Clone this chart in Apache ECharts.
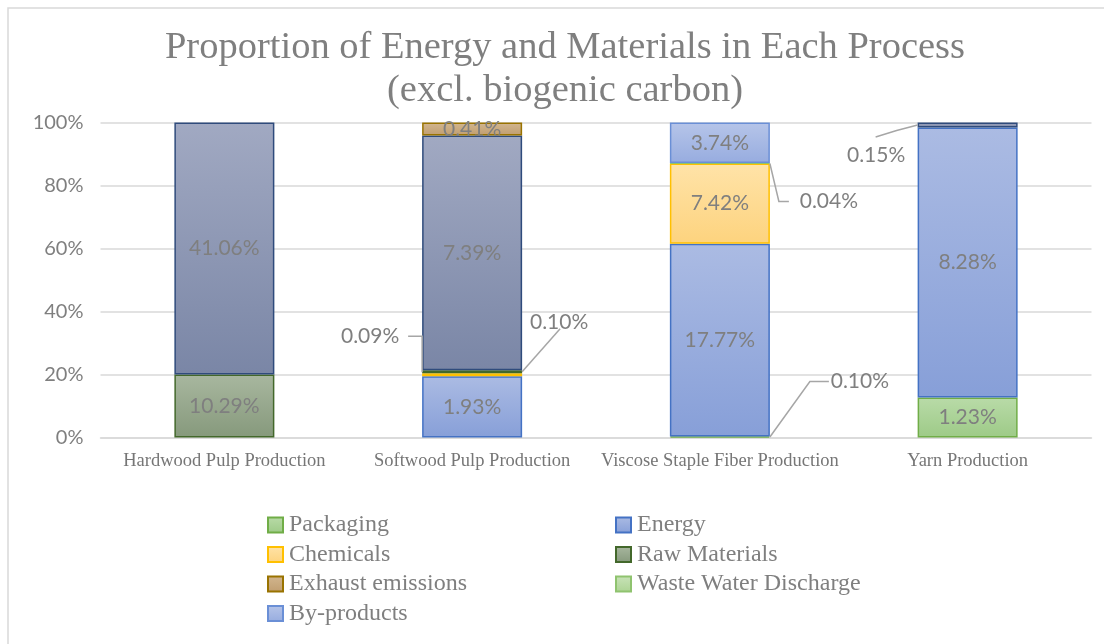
<!DOCTYPE html>
<html>
<head>
<meta charset="utf-8">
<script src="https://cdn.jsdelivr.net/npm/echarts@6/dist/echarts.min.js"></script>
<style>
  html, body { margin: 0; padding: 0; background: #ffffff; }
  #chart { width: 1104px; height: 644px; }
</style>
</head>
<body>
<div id="chart"></div>
<script>
// Process steps along the x axis
const processes = ['Hardwood Pulp Production', 'Softwood Pulp Production', 'Viscose Staple Fiber Production', 'Yarn Production'];

// Contribution of each input / output per process (%), null where absent
const packaging    = [null, null, 0.10, 1.23];
const energy       = [null, 1.93, 17.77, 8.28];
const chemicals    = [null, 0.09, 7.42, null];
const rawMaterials = [10.29, 0.10, null, null];
const primaryInput = [41.06, 7.39, null, 0.15];
const exhaust      = [null, 0.41, null, null];
const wasteWater   = [null, null, 0.04, null];
const byProducts   = [null, null, 3.74, null];

// Value-axis tick labels
const yTickLabels = ['0%', '20%', '40%', '60%', '80%', '100%'];

const seriesNames  = ['Packaging', 'Energy', 'Chemicals', 'Raw Materials', 'Primary Input', 'Exhaust emissions', 'Waste Water Discharge', 'By-products'];
const seriesValues = [packaging, energy, chemicals, rawMaterials, primaryInput, exhaust, wasteWater, byProducts];

const fills = [
  { top: '#b9dba8', bottom: '#9dca87', border: '#70ad47' },
  { top: '#abbbe3', bottom: '#879fd8', border: '#4472c4' },
  { top: '#ffe3a8', bottom: '#fdd37e', border: '#ffc000' },
  { top: '#a8b79f', bottom: '#86997c', border: '#43682b' },
  { top: '#a1a9c2', bottom: '#7a86a6', border: '#2f4b7c' },
  { top: '#d2b68f', bottom: '#c09e70', border: '#997300' },
  { top: '#c9e3b9', bottom: '#acd393', border: '#8fc36f' },
  { top: '#b6c5e9', bottom: '#97acdf', border: '#6a8fd6' }
];

const BAR_WIDTH = 100;
const LABEL_COLOR = '#7f7f7f';
const LABEL_FONT = 'Lato, "Open Sans", sans-serif';
const SERIF = '"Liberation Serif", "Times New Roman", serif';

// Small segments whose values sit outside the bar with a leader line.
// edge: -1 left side / 1 right side of the bar; at: where on the segment the line lands.
// text / path: pixel offsets from that landing point.
const leaders = [
  { series: 2, cat: 1, edge: -1, at: 'top',    text: [-52, -37],  path: [[-14, -37], [0, -37], [0, -1]] },
  { series: 3, cat: 1, edge: 1,  at: 'middle', text: [37, -50],   path: [[38, -43], [19, -21.5], [0, 0]] },
  { series: 6, cat: 2, edge: 1,  at: 'bottom', text: [59, 38],    path: [[19, 38], [9, 38], [0, 0]] },
  { series: 0, cat: 2, edge: 1,  at: 'bottom', text: [90, -56],   path: [[59, -56], [40, -56], [0, -0.5]] },
  { series: 4, cat: 3, edge: -1, at: 'middle', text: [-41.5, 30], path: [[-42, 12], [-21, 5.5], [0, 0]] }
];

const totals = processes.map((_, c) => seriesValues.reduce((s, arr) => s + (arr[c] || 0), 0));
const toPct = (v, c) => (v == null ? null : v / totals[c] * 100);
const isLeader = (s, c) => leaders.some(l => l.series === s && l.cat === c);

const barSeries = seriesNames.map((name, s) => ({
  name: name,
  type: 'bar',
  stack: 'share',
  barWidth: BAR_WIDTH,
  data: seriesValues[s].map((v, c) => v == null ? null : {
    value: toPct(v, c),
    raw: v,
    label: { show: !isLeader(s, c) }
  }),
  itemStyle: {
    color: new echarts.graphic.LinearGradient(0, 0, 0, 1, [
      { offset: 0, color: fills[s].top },
      { offset: 1, color: fills[s].bottom }
    ]),
    borderColor: fills[s].border,
    borderWidth: 1.5
  },
  label: {
    show: true,
    position: 'inside',
    color: LABEL_COLOR,
    fontFamily: LABEL_FONT,
    fontSize: 21,
    formatter: p => p.data.raw.toFixed(2) + '%'
  },
  emphasis: { disabled: true },
  animation: false
}));

// Landing point (category, cumulative %) for each leader
const leaderData = leaders.map((l, i) => {
  let below = 0;
  for (let s = 0; s < l.series; s++) below += toPct(seriesValues[s][l.cat], l.cat) || 0;
  const own = toPct(seriesValues[l.series][l.cat], l.cat);
  const y = l.at === 'bottom' ? below : l.at === 'top' ? below + own : below + own / 2;
  return [l.cat, y, seriesValues[l.series][l.cat], i];
});

const leaderSeries = {
  type: 'custom',
  name: 'leaders',
  coordinateSystem: 'cartesian2d',
  encode: { x: 0, y: 1 },
  clip: false,
  z: 5,
  silent: true,
  animation: false,
  data: leaderData,
  renderItem: (params, api) => {
    const l = leaders[api.value(3)];
    const p = api.coord([api.value(0), api.value(1)]);
    const x0 = p[0] + l.edge * BAR_WIDTH / 2;
    const y0 = p[1];
    return {
      type: 'group',
      children: [
        {
          type: 'polyline',
          shape: { points: l.path.map(q => [x0 + q[0], y0 + q[1]]) },
          style: { stroke: '#a6a6a6', lineWidth: 1.5, fill: null }
        },
        {
          type: 'text',
          x: x0 + l.text[0],
          y: y0 + l.text[1],
          style: {
            text: api.value(2).toFixed(2) + '%',
            fill: LABEL_COLOR,
            fontSize: 21,
            fontFamily: LABEL_FONT,
            align: 'center',
            verticalAlign: 'middle'
          }
        }
      ]
    };
  }
};

const legendText = { color: LABEL_COLOR, fontFamily: SERIF, fontSize: 24, lineHeight: 24, padding: [0, 0, 0, 1] };

const chart = echarts.init(document.getElementById('chart'), null, { renderer: 'canvas' });
chart.setOption({
  backgroundColor: '#ffffff',
  animation: false,
  title: {
    text: 'Proportion of Energy and Materials in Each Process\n(excl. biogenic carbon)',
    left: 565,
    textAlign: 'center',
    top: 26,
    padding: 0,
    textStyle: { color: LABEL_COLOR, fontFamily: SERIF, fontSize: 38.5, fontWeight: 'normal', lineHeight: 43 }
  },
  grid: { left: 100.5, right: 12.5, top: 122.5, bottom: 206.5, containLabel: false },
  legend: [
    {
      data: ['Packaging', 'Chemicals', 'Exhaust emissions', 'By-products'],
      orient: 'vertical', left: 262, top: 508, itemWidth: 15, itemHeight: 15, itemGap: 5.5,
      icon: 'rect', selectedMode: false, textStyle: legendText
    },
    {
      data: ['Energy', 'Raw Materials', 'Waste Water Discharge'],
      orient: 'vertical', left: 610, top: 508, itemWidth: 15, itemHeight: 15, itemGap: 5.5,
      icon: 'rect', selectedMode: false, textStyle: legendText
    }
  ],
  xAxis: {
    type: 'category',
    data: processes,
    axisLine: { lineStyle: { color: '#d9d9d9', width: 1.5 } },
    axisTick: { show: false },
    axisLabel: { interval: 0, color: '#767676', fontFamily: SERIF, fontSize: 18.5, margin: 14 }
  },
  yAxis: {
    type: 'value',
    min: 0,
    max: 100,
    interval: 20,
    axisLine: { show: false },
    axisTick: { show: false },
    splitLine: { lineStyle: { color: '#d9d9d9', width: 1.5 } },
    axisLabel: {
      color: LABEL_COLOR, fontFamily: LABEL_FONT, fontSize: 20, margin: 17,
      formatter: v => yTickLabels[Math.round(v / 20)]
    }
  },
  graphic: [
    {
      type: 'rect', silent: true, z: -1,
      shape: { x: 8, y: 8, width: 1200, height: 700 },
      style: { fill: null, stroke: '#d9d9d9', lineWidth: 1.5 }
    }
  ],
  series: barSeries.concat([leaderSeries])
});
</script>
</body>
</html>
